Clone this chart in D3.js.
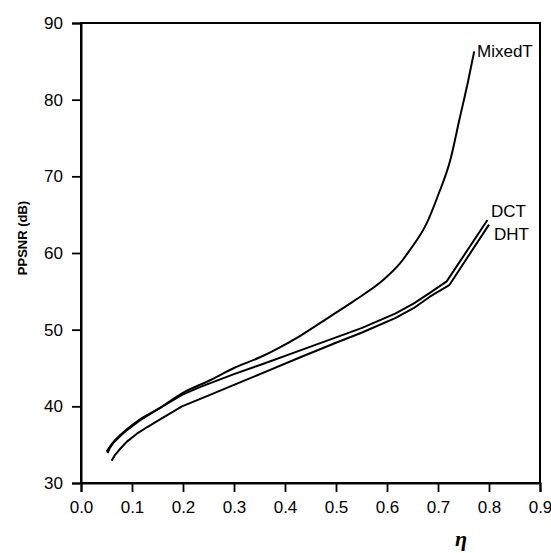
<!DOCTYPE html>
<html>
<head>
<meta charset="utf-8">
<script src="https://cdn.jsdelivr.net/npm/d3@7"></script>
<style>
  body { margin: 0; background: #fff; }
  svg { display: block; }
  text { font-family: "Liberation Sans", Arial, sans-serif; fill: #000; }
</style>
</head>
<body>
<svg id="chart" width="551" height="553"></svg>
<script>
const width = 551;
const height = 553;

// values: [eta, PPSNR]
const mixedT = [[0.050,34.1],[0.063,35.3],[0.09,37.0],[0.116,38.3],[0.155,39.8],[0.198,41.7],
  [0.253,43.4],[0.30,45.0],[0.351,46.4],[0.39,47.7],[0.43,49.2],[0.488,51.7],[0.534,53.7],
  [0.593,56.5],[0.625,58.6],[0.645,60.4],[0.678,63.9],[0.70,67.5],[0.724,72.1],[0.743,77.7],
  [0.759,82.4],[0.771,86.3]];
const dct = [[0.052,33.9],[0.056,34.5],[0.063,35.2],[0.075,36.0],[0.09,36.9],[0.116,38.2],
  [0.155,39.8],[0.198,41.5],[0.233,42.5],[0.30,44.2],[0.351,45.4],[0.43,47.3],[0.5,49.0],
  [0.55,50.2],[0.616,52.1],[0.652,53.4],[0.684,54.8],[0.717,56.3],[0.797,64.3]];
const dht = [[0.060,32.9],[0.066,33.6],[0.076,34.4],[0.09,35.4],[0.109,36.4],[0.13,37.3],
  [0.155,38.3],[0.198,40.0],[0.253,41.5],[0.30,42.8],[0.351,44.2],[0.43,46.4],[0.5,48.3],
  [0.55,49.6],[0.616,51.5],[0.652,52.8],[0.684,54.3],[0.722,55.8],[0.80,63.7]];
const seriesNames = ["MixedT", "DCT", "DHT"];
const xTicks = [0, 0.1, 0.2, 0.3, 0.4, 0.5, 0.6, 0.7, 0.8, 0.9];
const yTicks = [30, 40, 50, 60, 70, 80, 90];

const margin = {left: 81, right: 11, top: 23, bottom: 70};
const svg = d3.select("#chart");

const x = d3.scaleLinear().domain([0, 0.9]).range([margin.left, width - margin.right]);
const y = d3.scaleLinear().domain([30, 90]).range([height - margin.bottom, margin.top]);

// frame
svg.append("rect")
    .attr("x", x(0)).attr("y", y(90))
    .attr("width", x(0.9) - x(0)).attr("height", y(30) - y(90))
    .attr("fill", "none").attr("stroke", "#000").attr("stroke-width", 2);

const xAxis = svg.append("g")
    .attr("transform", `translate(0,${y(30)})`)
    .call(d3.axisBottom(x).tickValues(xTicks).tickFormat(d3.format(".1f")).tickSize(9).tickPadding(9));
const yAxis = svg.append("g")
    .attr("transform", `translate(${x(0)},0)`)
    .call(d3.axisLeft(y).tickValues(yTicks).tickSize(9).tickPadding(9));

[xAxis, yAxis].forEach(g => {
    g.select(".domain").attr("stroke-width", 2);
    g.selectAll(".tick line").attr("stroke-width", 1.8);
    g.selectAll(".tick text")
        .attr("font-family", "'Liberation Sans', Arial, sans-serif")
        .attr("font-size", "17px");
});

// MixedT is smooth, DCT / DHT have a visible kink near 0.72
const smooth = d3.line().x(d => x(d[0])).y(d => y(d[1])).curve(d3.curveMonotoneX);
const poly = d3.line().x(d => x(d[0])).y(d => y(d[1])).curve(d3.curveLinear);

[[mixedT, smooth], [dct, poly], [dht, poly]].forEach(([s, gen]) => {
    svg.append("path")
        .datum(s)
        .attr("d", gen)
        .attr("fill", "none")
        .attr("stroke", "#000")
        .attr("stroke-width", 2)
        .attr("stroke-linejoin", "round");
});

// series labels next to the line ends
const labelPos = [[477, 57], [491, 217], [494, 240]];
seriesNames.forEach((n, i) => {
    svg.append("text")
        .attr("x", labelPos[i][0])
        .attr("y", labelPos[i][1])
        .attr("font-size", "17px")
        .text(n);
});

svg.append("text")
    .attr("transform", "translate(27,238) rotate(-90)")
    .attr("text-anchor", "middle")
    .attr("font-size", "13px")
    .attr("font-weight", "bold")
    .text("PPSNR (dB)");

svg.append("text")
    .attr("x", 461)
    .attr("y", 546)
    .attr("text-anchor", "middle")
    .style("font-family", "'Liberation Serif', 'DejaVu Serif', serif")
    .attr("font-style", "italic")
    .attr("font-weight", "bold")
    .attr("font-size", "22px")
    .text("η");
</script>
</body>
</html>
